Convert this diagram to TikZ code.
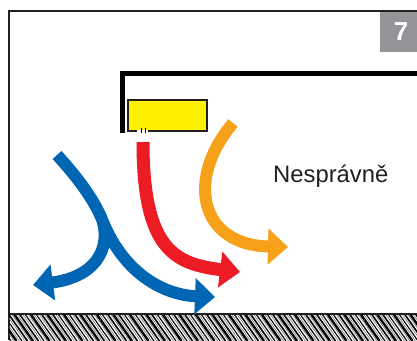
\documentclass[tikz,border=0pt]{standalone}
\usepackage{fontspec}
\usepackage{xcolor}
\usetikzlibrary{arrows.meta}
\newfontfamily\labelfont{Liberation Sans}
\definecolor{flowblue}{HTML}{0066B3}
\definecolor{flowred}{HTML}{ED1C24}
\definecolor{floworange}{HTML}{F7A11A}
\definecolor{unityellow}{HTML}{FFF200}
\definecolor{tabgray}{HTML}{939598}
\definecolor{inkgray}{HTML}{231F20}
\tikzset{
  airflow/.style={line width=12pt,-{Triangle[length=20pt,width=35pt]}},
  wall/.style={inkgray,line width=2pt},
}
\begin{document}
\begin{tikzpicture}[x=1pt,y=-1pt]
\useasboundingbox (0,0) rectangle (417,340);
% frame and floor
\fill[white] (0,0) rectangle (417,340);
\draw[wall] (9,340)--(9,11)--(417,11);
\begin{scope}
\clip (9,314.5) rectangle (417,340);
\foreach \x [count=\i] in {-30,-24.5,...,420}{
  \pgfmathsetmacro\lw{mod(\i,3)==0 ? 2.4 : (mod(\i,2)==0 ? 1.6 : 1.1)}
  \draw[black,line width=\lw pt] (\x,314)--++(19,27);
  \draw[black!55,line width=0.6pt] (\x+3,314)--++(19,27);
}
\end{scope}
\draw[inkgray,line width=1.2pt] (9,314)--(417,314);
% number tab
\fill[tabgray] (380,12) rectangle (417,52);
\node(num)at(401,31.5){\labelfont\bfseries\fontsize{26}{30}\selectfont\textcolor{white}{7}};
% ceiling and unit
\draw[black,line width=5pt] (122.5,133)--(122.5,73.5)--(417,73.5);
\draw[inkgray,line width=1.5pt,fill=unityellow] (128,100) rectangle (207,131);
\fill[white] (137,130) rectangle (148,133);
\draw[black,line width=1pt] (141.5,128)--(141.5,133) (145.5,128)--(145.5,133);
% air flows
\coordinate(blueS)at(57,155);
\coordinate(blueJ)at(103,222);
\coordinate(blueR)at(215,297);
\coordinate(blueL)at(33,285);
\coordinate(redS)at(143,142);
\coordinate(redE)at(240,272);
\coordinate(orS)at(233,123);
\coordinate(orE)at(288,247);
\draw[airflow,flowblue,-{}] (blueS) .. controls (80,180) and (96,203) .. (blueJ);
\draw[airflow,flowblue] (blueJ) .. controls (125,275) and (165,295) .. (blueR);
\draw[airflow,flowblue] (blueJ) .. controls (110,250) and (95,277) .. (blueL);
\draw[airflow,flowred,line width=13pt] (redS) .. controls (143,250) and (175,264) .. (redE);
\draw[airflow,floworange] (orS) .. controls (185,180) and (200,245) .. (orE);
\node(label)[anchor=base west,inner sep=0pt]at(273,182){\labelfont\fontsize{23.8}{28}\selectfont\textcolor{inkgray}{Nesprávně}};
\end{tikzpicture}
\end{document}
